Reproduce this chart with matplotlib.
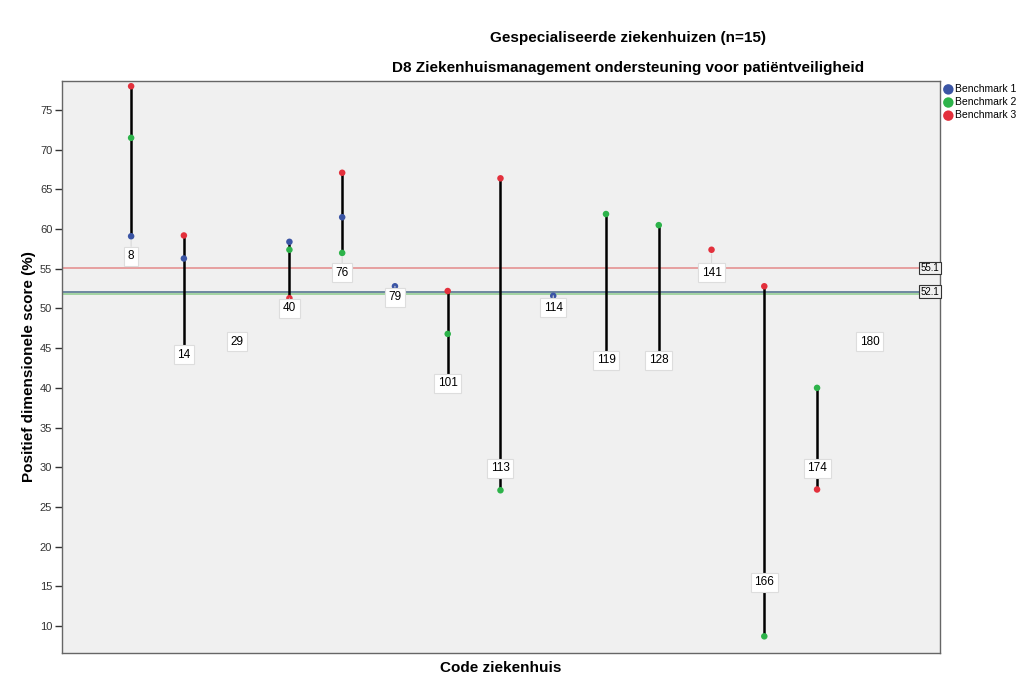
import numpy as np
import matplotlib
matplotlib.use('Agg')
import matplotlib.pyplot as plt

plt.rcParams['font.family'] = ['Liberation Sans', 'DejaVu Sans']

# ziekenhuiscodes en scores per benchmark (NaN = geen waarde)
codes = ['8', '14', '29', '40', '76', '79', '101', '113', '114', '119', '128', '141', '166', '174', '180']
bm1 = [59.1, 56.3, 45.8, 58.4, 61.5, 52.8, 39.8, np.nan, 51.6, 43.5, 43.5, np.nan, np.nan, np.nan, 45.8]
bm2 = [71.5, 44.2, np.nan, 57.4, 57.0, np.nan, 46.8, 27.1, np.nan, 61.9, 60.5, np.nan, 8.7, 40.0, np.nan]
bm3 = [78.0, 59.2, np.nan, 51.3, 67.1, np.nan, 52.2, 66.4, np.nan, np.nan, np.nan, 57.4, 52.8, 27.2, np.nan]
benchmarks = [52.1, 51.8, 55.1]
series_names = ['Benchmark 1', 'Benchmark 2', 'Benchmark 3']

# label-verschuiving in pixels t.o.v. laagste punt (omlaag = positief)
label_dy = [20, 0, 0, 10, 20, 11, -6, -22, 12, 0, 0, 23, -54, -21, 0]

dot_colors = ['#3B55A5', '#2DB34A', '#E3303C']
line_colors = ['#4A6A8A', '#8CCB8C', '#E48A8A']

fig = plt.figure(figsize=(10.24, 6.92), dpi=100)
ax = fig.add_axes([62 / 1024, 39 / 692, 878 / 1024, 572 / 692])
ax.set_facecolor('#F0F0F0')

x = np.arange(len(codes))
data = np.array([bm1, bm2, bm3])

# referentielijnen
for val, c in zip(benchmarks, line_colors):
    ax.axhline(val, color=c, lw=1.1, zorder=1)

# verticale lijnen van min tot max
lo = np.nanmin(data, axis=0)
hi = np.nanmax(data, axis=0)
ax.vlines(x, lo, hi, color='black', lw=1.8, zorder=2)

for vals, c, name in zip(data, dot_colors, series_names):
    ax.scatter(x, vals, s=22, color=c, zorder=3, label=name, edgecolors='none')

for xi, code, low, dy in zip(x, codes, lo, label_dy):
    arrow = dict(arrowstyle='-', color='#D8D8D8', lw=0.8, shrinkA=0, shrinkB=3) if dy > 0 else None
    ax.annotate(code, xy=(xi, low), xytext=(0, -dy), textcoords='offset pixels',
                ha='center', va='center', fontsize=8.5, zorder=5,
                bbox=dict(boxstyle='square,pad=0.3', fc='white', ec='#DDDDDD', lw=0.8),
                arrowprops=arrow)

# waarde-labels aan de rechterkant
for val in [benchmarks[2], benchmarks[0]]:
    ax.text(0.999, val, f'{val:.1f}', transform=ax.get_yaxis_transform(), ha='right', va='center',
            fontsize=7, zorder=6,
            bbox=dict(boxstyle='square,pad=0.15', fc='#F0F0F0', ec='#333333', lw=0.8))

ax.set_xlim(-1.31, 15.33)
ax.set_ylim(6.6, 78.66)
ax.set_xticks([])
ax.set_yticks(range(10, 80, 5))
ax.tick_params(axis='y', labelsize=8, labelcolor='#333333', length=5, width=1, color='#333333', pad=2)
for s in ax.spines.values():
    s.set_color('#666666')
    s.set_linewidth(1)

ax.set_ylabel('Positief dimensionele score (%)', fontsize=11, fontweight='bold', labelpad=3)
ax.set_xlabel('Code ziekenhuis', fontsize=11, fontweight='bold', labelpad=6)

fig.text(628 / 1024, 1 - 38 / 692, 'Gespecialiseerde ziekenhuizen (n=15)', ha='center', va='center',
         fontsize=11, fontweight='bold')
fig.text(628 / 1024, 1 - 68 / 692, 'D8 Ziekenhuismanagement ondersteuning voor patiëntveiligheid',
         ha='center', va='center', fontsize=11, fontweight='bold')

ax.legend(loc='upper left', bbox_to_anchor=(1.0, 1.0), frameon=False, fontsize=7.5,
          handletextpad=0.1, borderaxespad=0.2, labelspacing=0.3, markerscale=1.6,
          borderpad=0.1, handlelength=1.0)

fig.savefig('out.png', dpi=100)
